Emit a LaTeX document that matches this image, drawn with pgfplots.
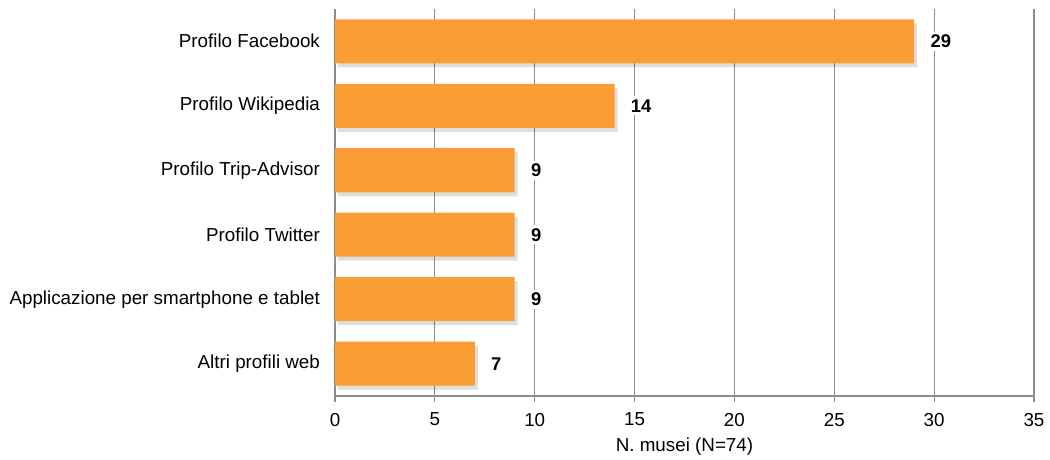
\documentclass[border=0pt]{standalone}
\usepackage{fontspec}
\setmainfont{Liberation Sans}
\usepackage{pgfplots}
\pgfplotsset{compat=1.18}
\usetikzlibrary{shadows}

\definecolor{barorange}{RGB}{249,157,52}
\definecolor{gridgray}{RGB}{140,140,140}

\begin{document}
\begin{tikzpicture}
\begin{axis}[
    name=ax,
    xbar,
    width=349.5pt, height=193.5pt,
    scale only axis,
    xmin=0, xmax=35,
    ymin=-0.5, ymax=5.5,
    xtick={0,5,...,35},
    ytick={0,...,5},
    yticklabels={Altri profili web,Applicazione per smartphone e tablet,Profilo Twitter,Profilo Trip-Advisor,Profilo Wikipedia,Profilo Facebook},
    extra y ticks={-0.5,0.5,...,5.5},
    extra y tick labels={},
    extra y tick style={major tick length=3pt, tick style={gridgray, line width=0.6pt}},
    major y tick style={draw=none},
    xmajorgrids,
    grid style={gridgray, line width=0.6pt},
    axis line style={gridgray, line width=0.6pt},
    x tick style={gridgray, line width=0.6pt},
    major tick length=3pt,
    tick align=outside,
    axis lines*=left,
    bar width=22pt,
    ticklabel style={font=\fontsize{9.4}{10}\selectfont, text=black},
    yticklabel style={xshift=-1pt},
    xticklabel style={yshift=-2pt},
    /pgf/number format/assume math mode=true,
    xlabel={N. musei (N=74)},
    xlabel style={font=\fontsize{9.4}{10}\selectfont, yshift=1pt},
    nodes near coords,
    nodes near coords style={font=\fontsize{9.2}{10}\selectfont\bfseries, fill=white, inner sep=1.5pt, anchor=west, xshift=6.5pt},
    clip=false,
]
\addplot[fill=barorange, draw=none, drop shadow={shadow xshift=1.5pt, shadow yshift=-2pt, opacity=0.13, fill=black}]
    coordinates {(7,0) (9,1) (9,2) (9,3) (14,4) (29,5)};
\coordinate (SW) at (rel axis cs:0,0);
\coordinate (NE) at (rel axis cs:1,1);
\end{axis}
\pgfresetboundingbox
\path ([xshift=-167.5pt,yshift=-32pt]SW) rectangle ([xshift=8pt,yshift=4.5pt]NE);
\end{tikzpicture}
\end{document}
